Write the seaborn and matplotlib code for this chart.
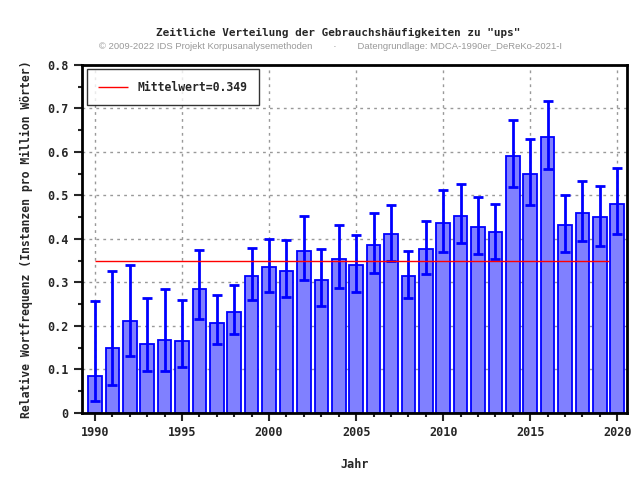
import numpy as np
import pandas as pd
import seaborn as sns
import matplotlib
matplotlib.use("Agg")
import matplotlib.pyplot as plt
from matplotlib.ticker import MultipleLocator

# Daten: relative Wortfrequenz pro Jahr mit Konfidenzintervall
jahre = list(range(1990, 2021))
werte = [0.085, 0.150, 0.211, 0.159, 0.168, 0.165, 0.285, 0.207, 0.232, 0.314,
         0.335, 0.326, 0.371, 0.305, 0.354, 0.339, 0.385, 0.410, 0.314, 0.376,
         0.437, 0.453, 0.426, 0.415, 0.591, 0.550, 0.635, 0.431, 0.460, 0.449,
         0.479]
unten = [0.027, 0.065, 0.130, 0.095, 0.097, 0.105, 0.215, 0.158, 0.182, 0.260,
         0.278, 0.266, 0.305, 0.245, 0.288, 0.277, 0.322, 0.350, 0.264, 0.318,
         0.370, 0.390, 0.365, 0.354, 0.520, 0.478, 0.560, 0.370, 0.396, 0.384,
         0.410]
oben = [0.257, 0.327, 0.339, 0.265, 0.284, 0.259, 0.375, 0.271, 0.294, 0.380,
        0.400, 0.398, 0.453, 0.377, 0.432, 0.409, 0.460, 0.478, 0.373, 0.440,
        0.512, 0.526, 0.497, 0.480, 0.673, 0.630, 0.717, 0.501, 0.533, 0.521,
        0.563]
mittelwert = 0.349

df = pd.DataFrame({"Jahr": jahre, "Wert": werte, "unten": unten, "oben": oben})

sns.set_theme(style="white")
mono = "DejaVu Sans Mono"
plt.rcParams['font.family'] = [mono]
plt.rcParams['font.weight'] = 'bold'

fig = plt.figure(figsize=(6.4, 4.8), dpi=100)
ax = fig.add_axes([0.128, 0.14, 0.852, 0.725])

sns.barplot(data=df, x="Jahr", y="Wert", native_scale=True, width=0.78,
            color="#8080ff", saturation=1, edgecolor="#0000ff", linewidth=1.3,
            errorbar=None, ax=ax, zorder=2)

yerr = np.array([df["Wert"] - df["unten"], df["oben"] - df["Wert"]])
ax.errorbar(df["Jahr"], df["Wert"], yerr=yerr, fmt="none", ecolor="#0000ff",
            elinewidth=2, capsize=3.3, capthick=2, zorder=3)

ax.hlines(mittelwert, 1990, 2019.5, color="red", linewidth=1, zorder=4,
          label=f"Mittelwert={mittelwert}")

ax.set_xlim(1989.25, 2020.57)
ax.set_ylim(0, 0.8)
ax.xaxis.set_major_locator(MultipleLocator(5))
ax.xaxis.set_minor_locator(MultipleLocator(1))
ax.yaxis.set_major_locator(MultipleLocator(0.1))
ax.yaxis.set_minor_locator(MultipleLocator(0.05))
ax.set_yticks(np.arange(0, 0.81, 0.1))
ax.set_yticklabels(["0"] + [f"{v:.1f}" for v in np.arange(0.1, 0.81, 0.1)])
ax.tick_params(which="major", direction="out", length=6, width=1.5,
               labelsize=8.5, bottom=True, left=True)
ax.tick_params(which="minor", direction="out", length=3, width=1.5,
               bottom=True, left=True)
ax.grid(True, which="major", linestyle=(0, (2, 3)), color="#999999",
        linewidth=1, zorder=0)
ax.set_axisbelow(True)
for s in ax.spines.values():
    s.set_linewidth(2)
    s.set_color("black")

ax.set_xlabel("Jahr", fontsize=8.5, fontweight="bold", labelpad=14)
ax.set_ylabel("Relative Wortfrequenz (Instanzen pro Million Wörter)",
              fontsize=8.3, fontweight="bold", labelpad=10)

leg = ax.legend(loc="upper left", frameon=True, fancybox=False,
                prop={"family": mono, "weight": "bold", "size": 8.3},
                borderpad=1.0, handlelength=2.6, borderaxespad=0.4)
leg.get_frame().set_edgecolor("black")
leg.get_frame().set_linewidth(1)

fig.text(0.529, 0.926, 'Zeitliche Verteilung der Gebrauchshäufigkeiten zu "ups"',
         ha="center", fontsize=7.9, fontweight="bold", family=mono)
fig.text(0.516, 0.897,
         "© 2009-2022 IDS Projekt Korpusanalysemethoden        ·        "
         "Datengrundlage: MDCA-1990er_DeReKo-2021-I",
         ha="center", fontsize=6.8, color="#999999", family="Liberation Sans",
         fontweight="normal")

fig.savefig("out.png", dpi=100, facecolor="white")
